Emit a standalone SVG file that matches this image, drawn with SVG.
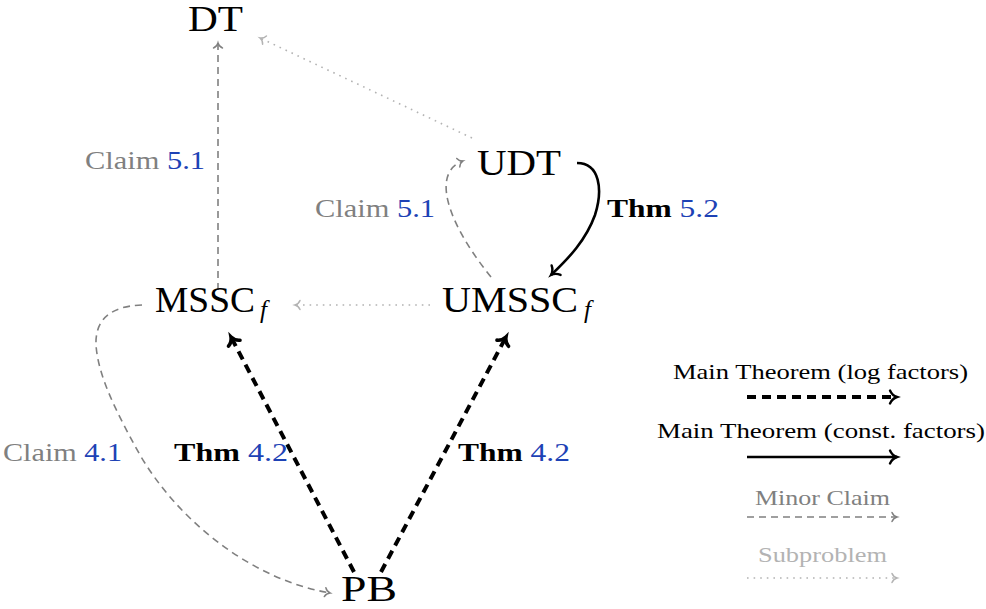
<svg xmlns="http://www.w3.org/2000/svg" width="986" height="609" viewBox="0 0 986 609">
<style>
  text { font-family: "Liberation Serif", "Times New Roman", serif; }
  .node { font-size: 35px; fill: #000; }
  .sub { font-size: 25px; font-style: italic; fill: #000; }
  .lbl { font-size: 26px; }
  .grey { fill: #808080; }
  .blue { fill: #1d42b5; }
  .bold { font-weight: bold; fill: #000; }
  .leg { font-size: 21px; fill: #000; }
  .main { stroke: #000; stroke-width: 4; fill: none; stroke-dasharray: 9 6; }
  .thm { stroke: #000; stroke-width: 2.6; fill: none; }
  .minor { stroke: #808080; stroke-width: 1.6; fill: none; stroke-dasharray: 7 5; }
  .subp { stroke: #b3b3b3; stroke-width: 1.6; fill: none; stroke-dasharray: 1.6 5; }
</style>
<defs>
  <marker id="aMain" markerUnits="userSpaceOnUse" markerWidth="20" markerHeight="20" refX="0" refY="0" orient="auto" overflow="visible" viewBox="-10 -10 20 20">
    <path d="M-7,-6.5 C-5.5,-3 -2.5,-0.8 0,0 C-2.5,0.8 -5.5,3 -7,6.5" fill="none" stroke="#000" stroke-width="3.6" stroke-linecap="round"/>
  </marker>
  <marker id="aThm" markerUnits="userSpaceOnUse" markerWidth="20" markerHeight="20" refX="0" refY="0" orient="auto" overflow="visible" viewBox="-10 -10 20 20">
    <path d="M-7,-6.5 C-5.5,-3 -2.5,-0.8 0,0 C-2.5,0.8 -5.5,3 -7,6.5" fill="none" stroke="#000" stroke-width="2.4" stroke-linecap="round"/>
  </marker>
  <marker id="aMinor" markerUnits="userSpaceOnUse" markerWidth="20" markerHeight="20" refX="0" refY="0" orient="auto" overflow="visible" viewBox="-10 -10 20 20">
    <path d="M-5,-4.5 C-4,-2 -1.8,-0.5 0,0 C-1.8,0.5 -4,2 -5,4.5" fill="none" stroke="#808080" stroke-width="1.5" stroke-linecap="round"/>
  </marker>
  <marker id="aSub" markerUnits="userSpaceOnUse" markerWidth="20" markerHeight="20" refX="0" refY="0" orient="auto" overflow="visible" viewBox="-10 -10 20 20">
    <path d="M-5,-4.5 C-4,-2 -1.8,-0.5 0,0 C-1.8,0.5 -4,2 -5,4.5" fill="none" stroke="#b3b3b3" stroke-width="1.5" stroke-linecap="round"/>
  </marker>
</defs>

<g id="connectors">
  <!-- MSSC -> DT -->
  <path class="minor" d="M218,290 L218,43" marker-end="url(#aMinor)"/>
  <!-- UDT -> DT -->
  <path class="subp" d="M472,138 L260,38" marker-end="url(#aSub)"/>
  <!-- UMSSC -> UDT -->
  <path class="minor" d="M491,277 C445,220 432,172 463,161" marker-end="url(#aMinor)"/>
  <!-- UDT -> UMSSC -->
  <path class="thm" d="M577,163 C600,163 603,190 595,215 C586,240 569,258 551,275" marker-end="url(#aThm)"/>
  <!-- UMSSC -> MSSC -->
  <path class="subp" d="M430,305 L295,305" marker-end="url(#aSub)"/>
  <!-- MSSC -> PB -->
  <path class="minor" d="M142,305 C110,306 95,320 96,345 C98,375 115,410 140,455 C175,515 245,578 330,593" marker-end="url(#aMinor)"/>
  <!-- PB -> MSSC -->
  <path class="main" d="M354,572 L231,337" marker-end="url(#aMain)"/>
  <!-- PB -> UMSSC -->
  <path class="main" d="M381,572 L506,337" marker-end="url(#aMain)"/>
</g>

<g id="node-DT"><text class="node" x="188" y="31" textLength="55" lengthAdjust="spacingAndGlyphs">DT</text></g>
<g id="node-UDT"><text class="node" x="477" y="175" textLength="84" lengthAdjust="spacingAndGlyphs">UDT</text></g>
<g id="node-MSSC"><text class="node" x="155" y="312" textLength="100" lengthAdjust="spacingAndGlyphs">MSSC</text><text class="sub" x="260" y="318">f</text></g>
<g id="node-UMSSC"><text class="node" x="442" y="312" textLength="136" lengthAdjust="spacingAndGlyphs">UMSSC</text><text class="sub" x="584" y="318">f</text></g>
<g id="node-PB"><text class="node" x="341" y="601" textLength="56" lengthAdjust="spacingAndGlyphs">PB</text></g>

<g id="labels">
  <text class="lbl" x="85" y="169" textLength="120" lengthAdjust="spacingAndGlyphs"><tspan class="grey">Claim </tspan><tspan class="blue">5.1</tspan></text>
  <text class="lbl" x="315" y="217" textLength="120" lengthAdjust="spacingAndGlyphs"><tspan class="grey">Claim </tspan><tspan class="blue">5.1</tspan></text>
  <text class="lbl" x="607" y="217" textLength="112" lengthAdjust="spacingAndGlyphs"><tspan class="bold">Thm </tspan><tspan class="blue">5.2</tspan></text>
  <text class="lbl" x="3" y="461" textLength="119" lengthAdjust="spacingAndGlyphs"><tspan class="grey">Claim </tspan><tspan class="blue">4.1</tspan></text>
  <text class="lbl" x="174" y="461" textLength="114" lengthAdjust="spacingAndGlyphs"><tspan class="bold">Thm </tspan><tspan class="blue">4.2</tspan></text>
  <text class="lbl" x="458" y="461" textLength="112" lengthAdjust="spacingAndGlyphs"><tspan class="bold">Thm </tspan><tspan class="blue">4.2</tspan></text>
</g>

<g id="legend">
  <text class="leg" x="673" y="379" textLength="295" lengthAdjust="spacingAndGlyphs">Main Theorem (log factors)</text>
  <path class="main" d="M747,397 L897,397" stroke-width="3" marker-end="url(#aThm)"/>
  <text class="leg" x="657" y="438" textLength="328" lengthAdjust="spacingAndGlyphs">Main Theorem (const. factors)</text>
  <path class="thm" d="M747,457 L897,457" stroke-width="2" marker-end="url(#aThm)"/>
  <text class="leg" x="755" y="505" textLength="135" lengthAdjust="spacingAndGlyphs" style="fill:#808080">Minor Claim</text>
  <path class="minor" d="M747,517 L897,517" marker-end="url(#aMinor)"/>
  <text class="leg" x="758" y="562" textLength="129" lengthAdjust="spacingAndGlyphs" style="fill:#b3b3b3">Subproblem</text>
  <path class="subp" d="M747,578 L897,578" marker-end="url(#aSub)"/>
</g>
</svg>
